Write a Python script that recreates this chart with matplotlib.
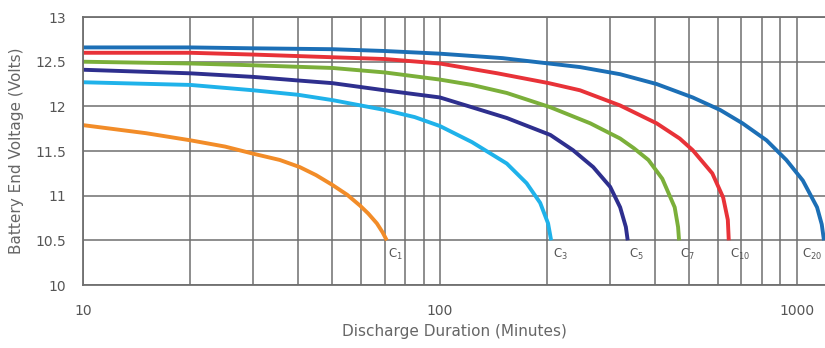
import matplotlib
matplotlib.use("Agg")
import matplotlib.pyplot as plt
from matplotlib.ticker import LogLocator, NullFormatter, FixedLocator, FixedFormatter

# ---- data ----
c1_t = [10, 15, 20, 25, 30, 35.6, 40.5, 45, 50, 55, 59.7, 63, 66.6, 69.1, 71]
c1_v = [11.79, 11.70, 11.62, 11.55, 11.47, 11.40, 11.32, 11.23, 11.12, 11.01, 10.89, 10.80, 10.69, 10.59, 10.50]

c3_t = [10, 20, 30, 40, 50, 70, 85, 100, 123, 154, 175, 191, 201, 205]
c3_v = [12.27, 12.24, 12.18, 12.13, 12.07, 11.96, 11.88, 11.78, 11.60, 11.36, 11.14, 10.92, 10.69, 10.50]

c5_t = [10, 20, 30, 40, 50, 70, 100, 123, 154, 204, 236, 269, 300, 320, 332, 336]
c5_v = [12.41, 12.37, 12.33, 12.29, 12.26, 12.18, 12.10, 11.99, 11.87, 11.68, 11.51, 11.32, 11.10, 10.87, 10.65, 10.50]

c7_t = [10, 20, 30, 50, 70, 100, 123, 154, 204, 264, 320, 350, 384, 420, 455, 465, 468]
c7_v = [12.50, 12.48, 12.46, 12.43, 12.38, 12.30, 12.24, 12.15, 11.99, 11.81, 11.64, 11.53, 11.40, 11.19, 10.87, 10.65, 10.50]

c10_t = [10, 20, 30, 50, 70, 100, 145, 202, 247, 320, 405, 470, 511, 580, 622, 641, 645]
c10_v = [12.60, 12.60, 12.58, 12.55, 12.53, 12.48, 12.37, 12.26, 12.18, 12.01, 11.81, 11.64, 11.51, 11.25, 10.98, 10.73, 10.50]

c20_t = [10, 20, 30, 50, 70, 100, 150, 202, 247, 320, 405, 511, 610, 705, 823, 935, 1040, 1140, 1175, 1192]
c20_v = [12.66, 12.66, 12.65, 12.64, 12.62, 12.59, 12.54, 12.48, 12.44, 12.36, 12.25, 12.10, 11.96, 11.81, 11.62, 11.40, 11.17, 10.87, 10.68, 10.50]

series_t = [c1_t, c3_t, c5_t, c7_t, c10_t, c20_t]
series_v = [c1_v, c3_v, c5_v, c7_v, c10_v, c20_v]
series_labels = ["C$_{1}$", "C$_{3}$", "C$_{5}$", "C$_{7}$", "C$_{10}$", "C$_{20}$"]
colors = ["#F28C28", "#1FB2EA", "#2E2F8E", "#7BAF3A", "#E83238", "#1C6FB6"]

y_ticks = [10, 10.5, 11, 11.5, 12, 12.5, 13]
y_tick_labels = ["10", "10.5", "11", "11.5", "12", "12.5", "13"]
x_ticks = [10, 100, 1000]
x_tick_labels = ["10", "100", "1000"]

# ---- figure ----
fig = plt.figure(figsize=(8.25, 3.48), dpi=100)
ax = fig.add_axes([0.1006, 0.181, 0.8994, 0.770])

ax.set_xscale("log")
ax.set_xlim(10, 1200)
ax.set_ylim(10, 13)

grid_color = "#6f6f6f"
ax.xaxis.set_major_locator(FixedLocator(x_ticks))
ax.xaxis.set_major_formatter(FixedFormatter(x_tick_labels))
ax.xaxis.set_minor_locator(LogLocator(base=10, subs=range(2, 10), numticks=20))
ax.xaxis.set_minor_formatter(NullFormatter())
ax.yaxis.set_major_locator(FixedLocator(y_ticks))
ax.yaxis.set_major_formatter(FixedFormatter(y_tick_labels))

ax.grid(True, which="both", axis="x", color=grid_color, lw=1.1)
ax.grid(True, which="major", axis="y", color=grid_color, lw=1.1)
ax.set_axisbelow(True)
for s in ["left", "bottom", "top"]:
    ax.spines[s].set_color(grid_color)
    ax.spines[s].set_linewidth(1.3)
ax.spines["right"].set_visible(False)

ax.tick_params(axis="both", which="both", length=0, colors="#555555", labelsize=10)
ax.tick_params(axis="x", pad=14)
ax.tick_params(axis="y", pad=12)

for i, (t, v, lab, c) in enumerate(zip(series_t, series_v, series_labels, colors)):
    ax.plot(t, v, color=c, lw=2.8, solid_capstyle="butt", solid_joinstyle="round", clip_on=False)
    last = i == len(series_t) - 1
    ax.annotate(lab, xy=(t[-1], v[-1]), xytext=((-1 if last else 1), -5), textcoords="offset points",
                ha=("right" if last else "left"), va="top", fontsize=8.5, color="#555555")

ax.set_xlabel("Discharge Duration (Minutes)", fontsize=11, color="#666666", labelpad=4)
ax.set_ylabel("Battery End Voltage (Volts)", fontsize=11, color="#666666", labelpad=8)

fig.savefig("out.png", dpi=100)
